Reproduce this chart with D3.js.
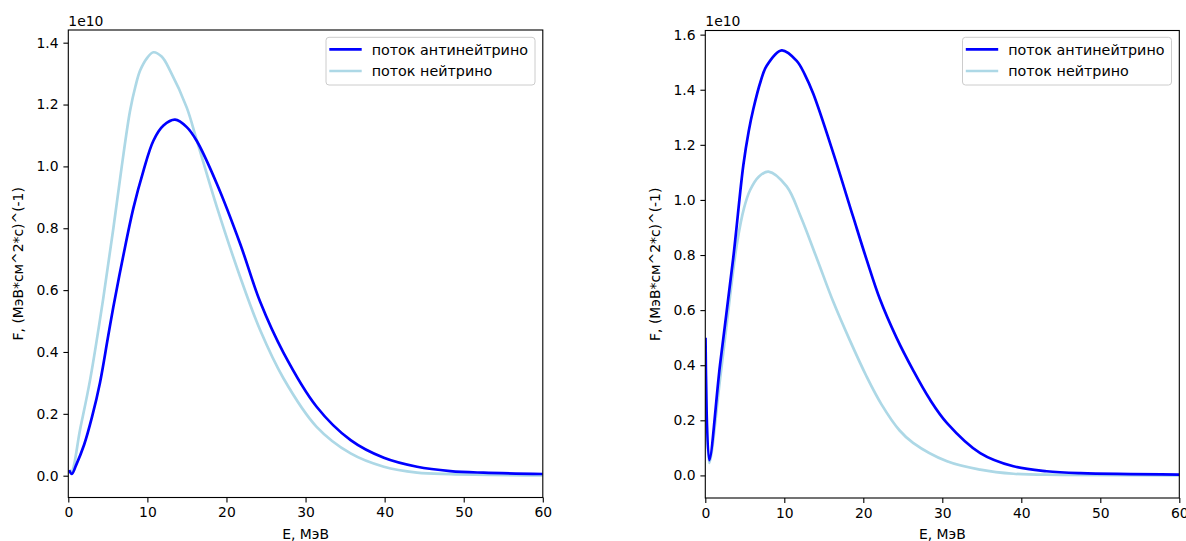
<!DOCTYPE html>
<html lang="en">
  <head>
    <meta charset="utf-8">
    <title>Потоки нейтрино</title>
    <style>
      body { margin: 0; background: #fff; }
      svg { display: block; font-family: "DejaVu Sans", sans-serif; }
    </style>
  </head>
  <body>
    <script src="https://cdn.jsdelivr.net/npm/d3@7"></script>
    <script>
        // values are in units of 1e10 (МэВ*см^2*с)^(-1)
        var seriesNames = ["поток антинейтрино", "поток нейтрино"];
        var seriesColors = ["blue", "lightblue"];
        var energyTicks = [0, 10, 20, 30, 40, 50, 60];
        var leftYTicks = [0, 0.2, 0.4, 0.6, 0.8, 1.0, 1.2, 1.4];
        var rightYTicks = [0, 0.2, 0.4, 0.6, 0.8, 1.0, 1.2, 1.4, 1.6];

        // left panel
        var leftAntiE = [0.1, 0.45, 1.0, 2.0, 3.0, 4.0, 5.0, 5.7, 6.96, 8.23, 9.49, 10.76, 12.03, 13.5, 14.98, 16.25, 18.78, 21.73, 24.26, 27.2, 31.4, 35.7, 39.9, 44.1, 48.3, 52.5, 60];
        var leftAntiF = [0.018, 0.006, 0.035, 0.1, 0.19, 0.3, 0.445, 0.546, 0.712, 0.865, 0.985, 1.083, 1.132, 1.151, 1.127, 1.082, 0.944, 0.75, 0.562, 0.398, 0.223, 0.115, 0.058, 0.029, 0.015, 0.0097, 0.0055];
        var leftNuE = [0.1, 0.4, 1.48, 2.75, 4.43, 5.7, 6.76, 7.81, 8.5, 9.08, 10.0, 10.76, 11.8, 12.87, 14.98, 16.25, 18.78, 21.7, 24.27, 27.2, 31.4, 35.7, 39.9, 44.1, 48.3, 60];
        var leftNuF = [0.014, 0.012, 0.148, 0.309, 0.575, 0.8, 1.0, 1.18, 1.26, 1.31, 1.352, 1.369, 1.355, 1.31, 1.19, 1.084, 0.869, 0.645, 0.47, 0.315, 0.158, 0.072, 0.029, 0.01, 0.005, 0.001];

        // right panel
        var rightAntiE = [0.03, 0.5, 1.86, 3.54, 4.81, 5.5, 6.08, 7.0, 7.77, 9.67, 11.57, 12.6, 13.67, 16.2, 18.7, 20.4, 22.1, 24.2, 26.3, 28.4, 30.6, 34.8, 39, 43.2, 47.5, 60];
        var rightAntiF = [0.5, 0.055, 0.4, 0.79, 1.125, 1.25, 1.33, 1.43, 1.487, 1.543, 1.505, 1.455, 1.385, 1.17, 0.94, 0.785, 0.64, 0.5, 0.382, 0.277, 0.19, 0.081, 0.033, 0.015, 0.008, 0.003];
        var rightNuE = [0.03, 0.5, 1.86, 3.13, 4.0, 4.9, 5.66, 6.8, 7.99, 10.3, 12.07, 14.18, 16.2, 18.3, 20.4, 22.3, 24.6, 26.3, 30.6, 34.8, 39, 45, 60];
        var rightNuF = [0.4, 0.045, 0.347, 0.65, 0.84, 0.97, 1.035, 1.085, 1.103, 1.049, 0.94, 0.783, 0.63, 0.49, 0.36, 0.258, 0.163, 0.118, 0.051, 0.021, 0.006, 0.002, 0.0];

        var panels = [
            {x0: 68.3, x1: 542.8, y0: 30, y1: 497.5, yDomain: [-0.0705, 1.441], yTicks: leftYTicks,
             series: [[leftAntiE, leftAntiF], [leftNuE, leftNuF]], ylabX: 22.5},
            {x0: 705.3, x1: 1179.3, y0: 30.5, y1: 498, yDomain: [-0.082, 1.615], yTicks: rightYTicks,
             series: [[rightAntiE, rightAntiF], [rightNuE, rightNuF]], ylabX: 659.5}
        ];

        var svg = d3.select("body").append("svg")
            .attr("width", 1186)
            .attr("height", 541);

        svg.append("rect").attr("width", 1186).attr("height", 541).attr("fill", "#fff");

        function drawPanel(p, k) {
            var x = d3.scaleLinear([0, 60], [p.x0, p.x1]);
            var y = d3.scaleLinear(p.yDomain, [p.y1, p.y0]);
            var g = svg.append("g");

            g.append("clipPath").attr("id", "clip" + k)
                .append("rect")
                .attr("x", p.x0).attr("y", p.y0)
                .attr("width", p.x1 - p.x0).attr("height", p.y1 - p.y0);

            var line = d3.line()
                .x(d => x(d[0]))
                .y(d => y(d[1]))
                .curve(d3.curveCatmullRom.alpha(0.5));

            // neutrino drawn first, antineutrino on top
            [1, 0].forEach(function(i) {
                var E = p.series[i][0], F = p.series[i][1];
                g.append("path")
                    .datum(E.map((e, j) => [e, F[j]]))
                    .attr("clip-path", "url(#clip" + k + ")")
                    .attr("fill", "none")
                    .attr("stroke", seriesColors[i])
                    .attr("stroke-width", 2.7)
                    .attr("stroke-linejoin", "round")
                    .attr("d", line);
            });

            g.append("g")
                .attr("transform", `translate(0,${p.y1})`)
                .call(d3.axisBottom(x).tickValues(energyTicks).tickSize(4.9).tickPadding(4.9))
                .call(a => a.select(".domain").remove());

            g.append("g")
                .attr("transform", `translate(${p.x0},0)`)
                .call(d3.axisLeft(y).tickValues(p.yTicks).tickFormat(d3.format(".1f")).tickSize(4.9).tickPadding(4.9))
                .call(a => a.select(".domain").remove());

            g.selectAll(".tick text")
                .attr("font-family", "DejaVu Sans")
                .attr("font-size", "13.9px")
                .attr("fill", "#000");
            g.selectAll(".tick line").attr("stroke", "#000").attr("stroke-width", 1.1);

            // spines
            g.append("rect")
                .attr("x", p.x0).attr("y", p.y0)
                .attr("width", p.x1 - p.x0).attr("height", p.y1 - p.y0)
                .attr("fill", "none")
                .attr("stroke", "#000")
                .attr("stroke-width", 1.1);

            g.append("text")
                .attr("x", p.x0).attr("y", 26)
                .attr("font-size", "13.9px")
                .text("1e10");

            g.append("text")
                .attr("x", (p.x0 + p.x1) / 2).attr("y", 538.5)
                .attr("text-anchor", "middle")
                .attr("font-size", "13.9px")
                .text("E, МэВ");

            g.append("text")
                .attr("transform", `translate(${p.ylabX},${(p.y0 + p.y1) / 2}) rotate(-90)`)
                .attr("text-anchor", "middle")
                .attr("font-size", "13.9px")
                .text("F, (МэВ*см^2*с)^(-1)");

            // legend
            var lx = p.x1 - 216.8, ly = 37.3;
            var leg = g.append("g");
            leg.append("rect")
                .attr("x", lx).attr("y", ly)
                .attr("width", 209).attr("height", 47.7)
                .attr("rx", 3)
                .attr("fill", "#fff").attr("fill-opacity", 0.8)
                .attr("stroke", "#ccc").attr("stroke-width", 1);
            seriesNames.forEach(function(name, i) {
                var yy = ly + 12 + i * 21.7;
                leg.append("line")
                    .attr("x1", lx + 3.3).attr("x2", lx + 35.7)
                    .attr("y1", yy).attr("y2", yy)
                    .attr("stroke", seriesColors[i])
                    .attr("stroke-width", 2.7);
                leg.append("text")
                    .attr("x", lx + 45.7).attr("y", yy + 5.2)
                    .attr("font-size", "14.3px")
                    .text(name);
            });
        }

        panels.forEach(drawPanel);
    </script>
  </body>
</html>
